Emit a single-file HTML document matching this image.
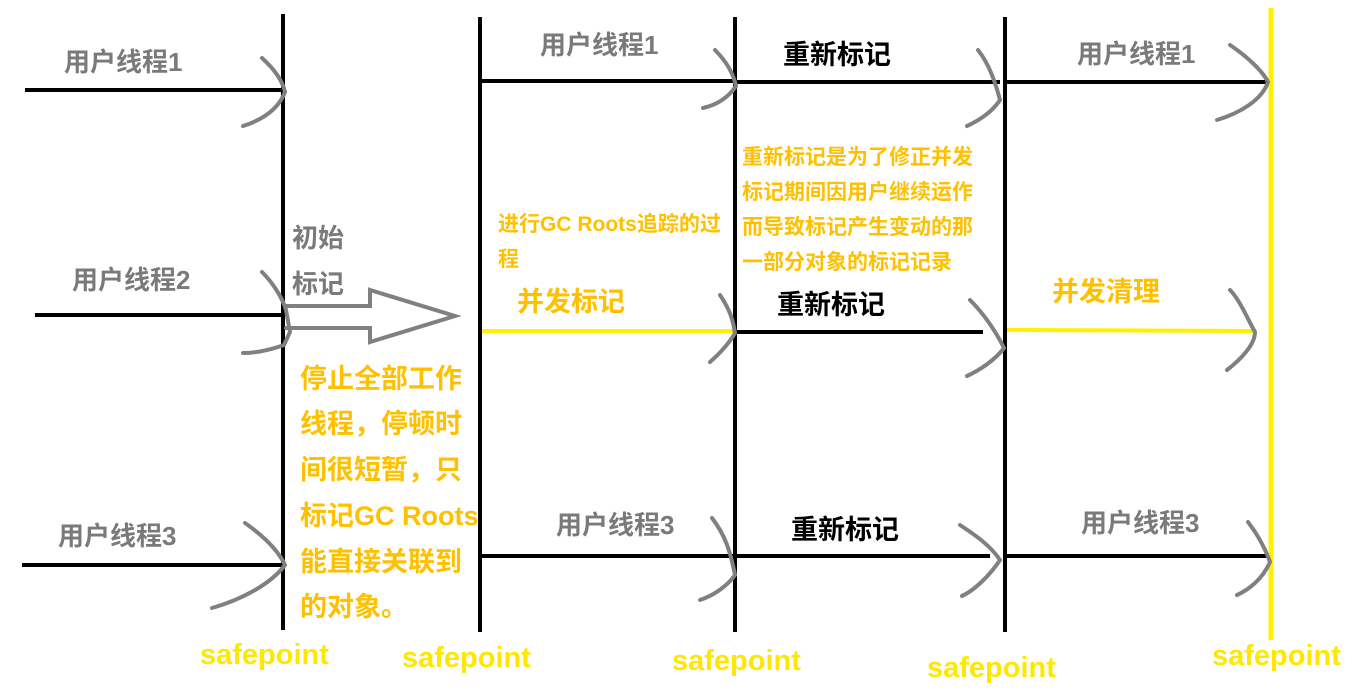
<!DOCTYPE html>
<html><head><meta charset="utf-8"><style>body{margin:0;background:#fff}svg{display:block}text{font-family:"Liberation Sans","Noto Sans CJK SC",sans-serif;font-weight:bold}</style></head><body>
<svg width="1356" height="692" viewBox="0 0 1356 692">
<g stroke="#000" stroke-width="4">
<line x1="283" y1="14" x2="283" y2="630"/>
<line x1="480" y1="17" x2="480" y2="632"/>
<line x1="735" y1="17" x2="735" y2="632"/>
<line x1="1005" y1="17" x2="1005" y2="632"/>
<line x1="25" y1="90" x2="285" y2="90"/>
<line x1="482" y1="81" x2="735" y2="81"/>
<line x1="737" y1="82" x2="1000" y2="82"/>
<line x1="1007" y1="82" x2="1268" y2="82"/>
<line x1="35" y1="315" x2="285" y2="315"/>
<line x1="737" y1="332" x2="983" y2="332"/>
<line x1="22" y1="565" x2="285" y2="565"/>
<line x1="482" y1="556" x2="735" y2="556"/>
<line x1="737" y1="556" x2="990" y2="556"/>
<line x1="1007" y1="556" x2="1268" y2="556"/>
</g>
<g stroke="#ffef00" stroke-width="4">
<line x1="482" y1="331" x2="733" y2="331"/>
<line x1="1007" y1="330" x2="1255" y2="331"/>
</g>
<line x1="1271" y1="8" x2="1271" y2="640" stroke="#ffef00" stroke-width="5"/>
<g fill="none" stroke="#808080" stroke-width="4" stroke-linecap="round">
<path d="M262 58 C275 70 282 80 285 92 C278 110 262 120 243 126"/>
<path d="M715 50 C725 60 733 72 736 86 C728 98 716 105 703 108"/>
<path d="M978 50 C990 65 996 85 1000 100 C992 112 980 120 967 126"/>
<path d="M1230 45 C1245 55 1262 70 1268 82 C1262 100 1240 113 1217 120"/>
<path d="M262 272 C275 285 283 300 286 310 L290 332 L284 345 C270 350 255 353 243 353"/>
<path d="M286 306 L370 306 L370 290 L455 316 L370 342 L370 328 L286 328" stroke-width="4"/>
<path d="M720 295 C730 310 733 320 735 333 C728 345 718 355 710 362"/>
<path d="M970 300 C985 315 995 330 1004 348 C995 360 980 370 967 376"/>
<path d="M1230 290 C1240 300 1248 320 1255 332 C1255 345 1240 360 1227 370"/>
<path d="M245 523 C262 535 278 550 285 565 C270 585 240 600 212 608"/>
<path d="M712 518 C725 535 730 550 735 575 C728 585 715 595 700 600"/>
<path d="M960 525 C975 535 990 545 1000 560 C990 575 975 590 962 596"/>
<path d="M1248 522 C1258 535 1265 548 1270 562 C1262 580 1248 590 1237 595"/>
</g>
<g fill="#7a7a7a" font-size="26">
<text x="64" y="71">用户线程1</text>
<text x="540" y="54">用户线程1</text>
<text x="1077" y="63">用户线程1</text>
<text x="72" y="289">用户线程2</text>
<text x="58" y="545">用户线程3</text>
<text x="556" y="534">用户线程3</text>
<text x="1081" y="532">用户线程3</text>
<text x="292" y="247">初始</text>
<text x="292" y="293">标记</text>
</g>
<g fill="#000" font-size="27">
<text x="783" y="64">重新标记</text>
<text x="777" y="314">重新标记</text>
<text x="791" y="539">重新标记</text>
</g>
<g fill="#ffc000" font-size="27">
<text x="300" y="388">停止全部工作</text>
<text x="300" y="433">线程，停顿时</text>
<text x="300" y="479">间很短暂，只</text>
<text x="300" y="525">标记GC Roots</text>
<text x="300" y="571">能直接关联到</text>
<text x="300" y="616">的对象。</text>
<text x="517" y="311">并发标记</text>
<text x="1052" y="301">并发清理</text>
</g>
<g fill="#ffc000" font-size="21">
<text x="498" y="231">进行GC Roots追踪的过</text>
<text x="498" y="266">程</text>
<text x="742" y="164">重新标记是为了修正并发</text>
<text x="742" y="199">标记期间因用户继续运作</text>
<text x="742" y="234">而导致标记产生变动的那</text>
<text x="742" y="269">一部分对象的标记记录</text>
</g>
<g fill="#ffe800" font-size="29">
<text x="200" y="664">safepoint</text>
<text x="402" y="667">safepoint</text>
<text x="672" y="670">safepoint</text>
<text x="927" y="677">safepoint</text>
<text x="1212" y="665">safepoint</text>
</g>
</svg>
</body></html>
